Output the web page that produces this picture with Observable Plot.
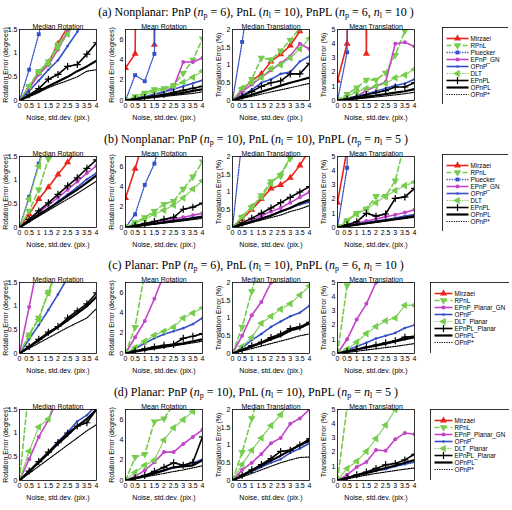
<!DOCTYPE html>
<html><head><meta charset="utf-8">
<script src="https://cdn.jsdelivr.net/npm/d3@7"></script>
<script src="https://cdn.jsdelivr.net/npm/@observablehq/plot@0.6"></script>
<style>
body{margin:0;background:#fff;}
#root{position:relative;width:512px;height:510px;overflow:hidden;background:#fff;}
.rt{position:absolute;left:0;width:512px;text-align:center;font-family:"Liberation Serif","DejaVu Serif",serif;font-size:12px;line-height:14px;color:#000;white-space:nowrap;}
.rt sub{font-size:8px;vertical-align:-2px;line-height:0;}
.pn{position:absolute;}
</style></head><body><div id="root"></div>
<script>
// ---------------- data ----------------
const xNoise = [0, 0.5, 1, 1.5, 2, 2.5, 3, 3.5, 4];
const panelTitles = ["Median Rotation", "Mean Rotation", "Median Translation", "Mean Translation"];
const yLabels = ["Rotation Error (degrees)", "Rotation Error (degrees)", "Translation Error (%)", "Translation Error (%)"];
const yMax = [1.5, 7, 2, 5];
const yTicks = [[0, 0.5, 1, 1.5], [0, 2, 4, 6], [0, 0.5, 1, 1.5, 2], [0, 1, 2, 3, 4, 5]];
const xLabel = "Noise, std.dev. (pix.)";
const rowTitles = [
  "(a) Nonplanar: PnP (<i>n</i><sub>p</sub> = 6), PnL (<i>n</i><sub>l</sub> = 10), PnPL (<i>n</i><sub>p</sub> = 6, <i>n</i><sub>l</sub> = 10 )",
  "(b) Nonplanar: PnP (<i>n</i><sub>p</sub> = 10), PnL (<i>n</i><sub>l</sub> = 10), PnPL (<i>n</i><sub>p</sub> = <i>n</i><sub>l</sub> = 5 )",
  "(c) Planar: PnP (<i>n</i><sub>p</sub> = 6), PnL (<i>n</i><sub>l</sub> = 10), PnPL (<i>n</i><sub>p</sub> = 6, <i>n</i><sub>l</sub> = 10 )",
  "(d) Planar: PnP (<i>n</i><sub>p</sub> = 10), PnL (<i>n</i><sub>l</sub> = 10), PnPL (<i>n</i><sub>p</sub> = <i>n</i><sub>l</sub> = 5 )"
];
const nonplanarNames = ["Mirzaei", "RPnL", "Pluecker", "EPnP_GN", "OPnP", "DLT", "EPnPL", "OPnPL", "OPnP*"];
const planarNames = ["Mirzaei", "RPnL", "EPnP_Planar_GN", "OPnP", "DLT_Planar", "EPnPL_Planar", "OPnPL", "OPnP*"];

// (a) Nonplanar np=6, nl=10
const a1 = {
  "Mirzaei": [0, 0.27, 0.58, 0.8, 1.2, 1.55, 1.9, 2.3, 2.7],
  "RPnL": [0, 0.3, 0.62, 0.82, 1.18, 1.45, 1.9, 2.2, 2.6],
  "Pluecker": [0, 0.65, 1.4, 2.3, 3.1, 3.8, 4.5, 5.2, 6],
  "EPnP_GN": [0, 0.25, 0.55, 0.75, 1.08, 1.45, 1.8, 2.1, 2.5],
  "OPnP": [0, 0.2, 0.42, 0.65, 0.85, 1.15, 1.45, 1.8, 2.1],
  "DLT": [0, 0.3, 0.6, 0.78, 1.12, 1.4, 1.75, 2.1, 2.4],
  "EPnPL": [0, 0.12, 0.25, 0.45, 0.55, 0.72, 0.76, 0.98, 1.22],
  "OPnPL": [0, 0.1, 0.2, 0.3, 0.4, 0.5, 0.62, 0.72, 0.84],
  "OPnP*": [0, 0.08, 0.17, 0.27, 0.35, 0.42, 0.5, 0.62, 0.65]
};
const a2 = {
  "Mirzaei": [3.2, 4.6, 99, 5.5, 99, 99, 99, 99, 99],
  "RPnL": [0, 0.4, 0.75, 1.1, 1.2, 1.5, 2.7, 4.0, 6.1],
  "Pluecker": [0, 2.5, 1.9, 4.6, 99, 99, 99, 99, 99],
  "EPnP_GN": [0, 0.2, 0.4, 0.6, 0.9, 1.3, 3.8, 3.8, 4.2],
  "OPnP": [0, 0.2, 0.4, 0.6, 0.85, 1.1, 1.4, 1.7, 2.0],
  "DLT": [0, 0.3, 0.6, 0.85, 1.1, 1.4, 1.8, 2.3, 2.9],
  "EPnPL": [0, 0.15, 0.3, 0.45, 0.6, 0.8, 1.0, 1.2, 1.4],
  "OPnPL": [0, 0.12, 0.25, 0.38, 0.5, 0.62, 0.75, 0.95, 1.1],
  "OPnP*": [0, 0.1, 0.2, 0.3, 0.4, 0.5, 0.6, 0.7, 0.85]
};
const a3 = {
  "Mirzaei": [0, 0.3, 0.55, 0.75, 1.1, 1.3, 1.55, 1.95, 2.4],
  "RPnL": [0, 0.3, 0.6, 1.2, 1.15, 1.4, 1.7, 2.05, 2.4],
  "Pluecker": [0, 1.65, 3.5, 5, 6, 7, 8, 9, 10],
  "EPnP_GN": [0, 0.25, 0.45, 0.65, 0.85, 1.05, 1.25, 1.6, 1.45],
  "OPnP": [0, 0.15, 0.3, 0.5, 0.6, 0.75, 0.8, 1.1, 1.25],
  "DLT": [0, 0.35, 0.5, 0.65, 0.9, 1.0, 1.2, 1.45, 1.75],
  "EPnPL": [0, 0.12, 0.25, 0.4, 0.5, 0.55, 0.75, 0.75, 1.05],
  "OPnPL": [0, 0.08, 0.16, 0.25, 0.33, 0.42, 0.5, 0.57, 0.65],
  "OPnP*": [0, 0.06, 0.12, 0.18, 0.24, 0.3, 0.36, 0.42, 0.48]
};
const a4 = {
  "Mirzaei": [1.4, 4.0, 99, 3.3, 99, 99, 99, 99, 99],
  "RPnL": [0, 0.45, 0.9, 1.45, 1.45, 1.95, 3.2, 4.9, 6.5],
  "Pluecker": [0, 3.4, 99, 99, 99, 99, 99, 99, 99],
  "EPnP_GN": [0, 0.15, 0.3, 0.7, 1.0, 1.3, 4.0, 4.1, 3.8],
  "OPnP": [0, 0.15, 0.3, 0.45, 0.65, 0.85, 1.05, 1.2, 1.5],
  "DLT": [0, 0.3, 0.6, 0.85, 1.0, 1.2, 1.6, 1.8, 2.2],
  "EPnPL": [0, 0.1, 0.25, 0.4, 0.55, 0.7, 0.95, 0.95, 1.25],
  "OPnPL": [0, 0.08, 0.17, 0.26, 0.35, 0.45, 0.55, 0.65, 0.8],
  "OPnP*": [0, 0.06, 0.12, 0.18, 0.25, 0.32, 0.4, 0.48, 0.58]
};
// (b) Nonplanar np=10, nl=10, PnPL np=nl=5
const b1 = {
  "Mirzaei": [0, 0.28, 0.6, 0.85, 1.12, 1.38, 1.65, 1.9, 2.2],
  "RPnL": [0, 0.35, 0.8, 1.45, 2.0, 2.5, 3.0, 3.5, 4.0],
  "Pluecker": [0, 0.65, 1.35, 2.1, 2.8, 3.5, 4.2, 4.9, 5.6],
  "EPnP_GN": [0, 0.15, 0.32, 0.48, 0.63, 0.8, 0.97, 1.15, 1.3],
  "OPnP": [0, 0.13, 0.27, 0.4, 0.55, 0.7, 0.85, 1.02, 1.15],
  "DLT": [0, 0.6, 1.3, 2.0, 2.7, 3.3, 4.0, 4.6, 5.2],
  "EPnPL": [0, 0.17, 0.35, 0.52, 0.7, 0.88, 1.05, 1.25, 1.43],
  "OPnPL": [0, 0.13, 0.27, 0.4, 0.53, 0.67, 0.8, 0.95, 1.1],
  "OPnP*": [0, 0.12, 0.24, 0.36, 0.48, 0.6, 0.72, 0.85, 0.98]
};
const b2 = {
  "Mirzaei": [2.9, 5.8, 9, 99, 99, 99, 99, 99, 99],
  "RPnL": [0, 0.5, 1.0, 1.6, 2.3, 2.6, 3.8, 5.0, 6.5],
  "Pluecker": [0, 1.3, 4.2, 6.3, 10, 99, 99, 99, 99],
  "EPnP_GN": [0, 0.15, 0.3, 0.45, 0.6, 0.8, 1.0, 1.2, 1.4],
  "OPnP": [0, 0.13, 0.27, 0.4, 0.53, 0.67, 0.8, 0.95, 1.1],
  "DLT": [0, 0.4, 0.8, 1.3, 1.7, 2.2, 2.9, 3.8, 4.6],
  "EPnPL": [0, 0.2, 0.4, 0.6, 0.8, 1.0, 1.8, 2.0, 2.4],
  "OPnPL": [0, 0.12, 0.25, 0.37, 0.5, 0.62, 0.75, 0.9, 1.05],
  "OPnP*": [0, 0.1, 0.22, 0.33, 0.44, 0.55, 0.66, 0.78, 0.9]
};
const b3 = {
  "Mirzaei": [0, 0.25, 0.5, 0.8, 1.1, 1.2, 1.4, 1.75, 2.2],
  "RPnL": [0, 0.3, 0.55, 0.9, 1.3, 1.45, 1.95, 2.4, 2.8],
  "Pluecker": [0, 2.5, 5, 7, 9, 11, 13, 15, 17],
  "EPnP_GN": [0, 0.1, 0.2, 0.33, 0.45, 0.55, 0.7, 0.85, 1.0],
  "OPnP": [0, 0.08, 0.17, 0.25, 0.34, 0.45, 0.55, 0.65, 0.72],
  "DLT": [0, 0.3, 0.6, 0.85, 1.25, 1.5, 2.0, 2.4, 2.9],
  "EPnPL": [0, 0.13, 0.26, 0.4, 0.55, 0.7, 0.85, 1.0, 1.15],
  "OPnPL": [0, 0.08, 0.16, 0.25, 0.34, 0.45, 0.55, 0.68, 0.78],
  "OPnP*": [0, 0.07, 0.14, 0.21, 0.28, 0.35, 0.45, 0.52, 0.62]
};
const b4 = {
  "Mirzaei": [1.75, 5.5, 99, 99, 99, 99, 99, 99, 99],
  "RPnL": [0, 0.5, 1.0, 1.3, 2.2, 2.2, 3.3, 6, 8],
  "Pluecker": [0, 4.2, 99, 99, 99, 99, 99, 99, 99],
  "EPnP_GN": [0, 0.15, 0.3, 0.45, 0.6, 0.75, 0.9, 1.05, 1.25],
  "OPnP": [0, 0.1, 0.22, 0.33, 0.45, 0.55, 0.67, 0.8, 0.92],
  "DLT": [0, 0.45, 0.95, 1.3, 1.75, 2.2, 2.6, 2.95, 3.2],
  "EPnPL": [0, 0.2, 0.4, 1.0, 0.8, 0.95, 2.05, 2.15, 2.75],
  "OPnPL": [0, 0.1, 0.2, 0.3, 0.4, 0.5, 0.6, 0.7, 0.8],
  "OPnP*": [0, 0.09, 0.18, 0.27, 0.36, 0.45, 0.54, 0.63, 0.72]
};
// (c) Planar np=6, nl=10
const c1 = {
  "Mirzaei": [99, 99, 99, 99, 99, 99, 99, 99, 99],
  "RPnL": [0, 0.4, 0.75, 1.3, 1.85, 2.4, 3.0, 3.5, 4.0],
  "EPnP_Planar_GN": [0, 0.98, 2.0, 3.0, 4.0, 5.0, 6.0, 7.0, 8.0],
  "OPnP": [0, 0.3, 0.6, 0.92, 1.25, 1.6, 1.9, 2.2, 2.5],
  "DLT_Planar": [0, 0.37, 0.72, 1.28, 1.75, 2.2, 2.6, 3.0, 3.4],
  "EPnPL_Planar": [0, 0.15, 0.3, 0.45, 0.57, 0.75, 0.9, 1.05, 1.28],
  "OPnPL": [0, 0.14, 0.28, 0.42, 0.56, 0.7, 0.85, 1.0, 1.2],
  "OPnP*": [0, 0.11, 0.22, 0.33, 0.44, 0.55, 0.65, 0.75, 0.95]
};
const c2 = {
  "Mirzaei": [99, 99, 99, 99, 99, 99, 99, 99, 99],
  "RPnL": [0, 2.6, 8, 12, 16, 20, 24, 28, 32],
  "EPnP_Planar_GN": [0, 1.6, 3.2, 5.4, 7.8, 10, 12, 14, 16],
  "OPnP": [0, 0.5, 1.0, 1.5, 1.9, 2.2, 2.5, 2.9, 3.5],
  "DLT_Planar": [0, 0.6, 1.2, 1.8, 2.2, 2.6, 3.5, 4.0, 4.5],
  "EPnPL_Planar": [0, 0.25, 0.45, 0.65, 0.8, 0.9, 1.5, 1.7, 1.95],
  "OPnPL": [0, 0.2, 0.4, 0.55, 0.7, 0.85, 1.0, 1.2, 1.4],
  "OPnP*": [0, 0.15, 0.3, 0.45, 0.6, 0.75, 0.9, 1.05, 1.2]
};
const c3 = {
  "Mirzaei": [99, 99, 99, 99, 99, 99, 99, 99, 99],
  "RPnL": [0, 0.75, 1.75, 2.8, 3.8, 4.8, 5.8, 6.8, 7.8],
  "EPnP_Planar_GN": [0, 0.5, 1.08, 1.45, 2.0, 2.5, 3.0, 3.5, 4.0],
  "OPnP": [0, 0.15, 0.38, 0.55, 0.75, 0.9, 1.05, 1.15, 1.35],
  "DLT_Planar": [0, 0.2, 0.45, 0.85, 1.05, 1.25, 1.4, 1.65, 1.9],
  "EPnPL_Planar": [0, 0.1, 0.22, 0.32, 0.45, 0.55, 0.7, 0.75, 0.88],
  "OPnPL": [0, 0.1, 0.2, 0.3, 0.4, 0.5, 0.65, 0.72, 0.85],
  "OPnP*": [0, 0.07, 0.14, 0.21, 0.28, 0.35, 0.42, 0.5, 0.55]
};
const c4 = {
  "Mirzaei": [99, 99, 99, 99, 99, 99, 99, 99, 99],
  "RPnL": [0, 4.8, 10, 15, 20, 25, 30, 35, 40],
  "EPnP_Planar_GN": [0, 1.0, 2.4, 3.5, 5.0, 6.2, 7.5, 8.7, 10],
  "OPnP": [0, 0.25, 0.5, 0.75, 1.05, 1.25, 1.45, 1.8, 2.0],
  "DLT_Planar": [0, 0.3, 0.8, 1.4, 1.9, 2.3, 2.5, 3.4, 3.4],
  "EPnPL_Planar": [0, 0.15, 0.3, 0.45, 0.6, 0.75, 0.9, 1.15, 1.2],
  "OPnPL": [0, 0.14, 0.28, 0.42, 0.56, 0.7, 0.85, 1.0, 1.15],
  "OPnP*": [0, 0.08, 0.16, 0.25, 0.33, 0.42, 0.5, 0.6, 0.7]
};
// (d) Planar np=10, nl=10, PnPL np=nl=5
const d1 = {
  "Mirzaei": [99, 99, 99, 99, 99, 99, 99, 99, 99],
  "RPnL": [0, 2.0, 4.0, 6.0, 8.0, 10, 12, 14, 16],
  "EPnP_Planar_GN": [0, 0.45, 0.92, 1.28, 1.75, 2.2, 2.6, 3.0, 3.4],
  "OPnP": [0, 0.2, 0.4, 0.6, 0.82, 1.02, 1.25, 1.38, 1.6],
  "DLT_Planar": [0, 0.62, 1.13, 1.3, 1.9, 2.4, 2.9, 3.4, 3.9],
  "EPnPL_Planar": [0, 0.2, 0.4, 0.6, 0.8, 1.0, 1.15, 1.22, 1.5],
  "OPnPL": [0, 0.19, 0.38, 0.57, 0.78, 0.96, 1.15, 1.3, 1.5],
  "OPnP*": [0, 0.15, 0.3, 0.45, 0.6, 0.75, 0.9, 1.05, 1.18]
};
const d2 = {
  "Mirzaei": [99, 99, 99, 99, 99, 99, 99, 99, 99],
  "RPnL": [0, 2.3, 2.6, 5.8, 6.1, 7.5, 8.5, 9.5, 10],
  "EPnP_Planar_GN": [0, 0.4, 1.0, 1.8, 2.8, 2.8, 3.6, 4.3, 5.0],
  "OPnP": [0, 0.25, 0.5, 0.75, 1.0, 1.25, 1.5, 1.7, 2.1],
  "DLT_Planar": [0, 0.8, 1.5, 2.0, 4.0, 5.2, 6.0, 6.8, 8.0],
  "EPnPL_Planar": [0, 0.25, 0.5, 0.9, 1.3, 1.75, 1.5, 1.8, 4.3],
  "OPnPL": [0, 0.2, 0.45, 0.7, 1.0, 1.3, 1.4, 1.5, 2.0],
  "OPnP*": [0, 0.18, 0.35, 0.52, 0.7, 0.88, 1.05, 1.25, 1.45]
};
const d3v = {
  "Mirzaei": [99, 99, 99, 99, 99, 99, 99, 99, 99],
  "RPnL": [0, 0.8, 1.75, 2.7, 3.5, 4.3, 5.1, 5.9, 6.7],
  "EPnP_Planar_GN": [0, 0.3, 0.5, 0.75, 1.05, 1.2, 1.6, 1.75, 2.0],
  "OPnP": [0, 0.12, 0.25, 0.38, 0.5, 0.6, 0.78, 0.9, 1.05],
  "DLT_Planar": [0, 0.45, 0.85, 1.2, 1.55, 1.85, 2.2, 2.5, 2.8],
  "EPnPL_Planar": [0, 0.15, 0.3, 0.45, 0.62, 0.82, 0.85, 1.0, 1.17],
  "OPnPL": [0, 0.14, 0.28, 0.42, 0.56, 0.7, 0.85, 1.0, 1.12],
  "OPnP*": [0, 0.1, 0.2, 0.3, 0.4, 0.5, 0.58, 0.65, 0.66]
};
const d4 = {
  "Mirzaei": [99, 99, 99, 99, 99, 99, 99, 99, 99],
  "RPnL": [0, 5.2, 10, 15, 20, 25, 30, 35, 40],
  "EPnP_Planar_GN": [0, 0.4, 0.95, 1.3, 2.15, 2.1, 2.9, 3.35, 3.25],
  "OPnP": [0, 0.15, 0.35, 0.5, 0.7, 0.8, 1.0, 1.15, 1.3],
  "DLT_Planar": [0, 0.85, 1.35, 2.05, 2.95, 3.9, 5.0, 6.0, 7.0],
  "EPnPL_Planar": [0, 0.2, 0.4, 0.6, 0.85, 1.1, 1.2, 1.45, 1.85],
  "OPnPL": [0, 0.18, 0.35, 0.53, 0.7, 0.88, 1.05, 1.25, 1.45],
  "OPnP*": [0, 0.12, 0.25, 0.38, 0.5, 0.6, 0.7, 0.8, 0.88]
};
const rows = [
  {names: nonplanarNames, panels: [a1, a2, a3, a4]},
  {names: nonplanarNames, panels: [b1, b2, b3, b4]},
  {names: planarNames, panels: [c1, c2, c3, c4]},
  {names: planarNames, panels: [d1, d2, d3v, d4]}
];

// ---------------- styles ----------------
const S3 = Math.sqrt(3);
const triDown = {draw(ctx, size) { const a = Math.sqrt(size / (S3 * 3)); ctx.moveTo(0, 2 * a); ctx.lineTo(-S3 * a, -a); ctx.lineTo(S3 * a, -a); ctx.closePath(); }};
const triLeft = {draw(ctx, size) { const a = Math.sqrt(size / (S3 * 3)); ctx.moveTo(-2 * a, 0); ctx.lineTo(a, -S3 * a); ctx.lineTo(a, S3 * a); ctx.closePath(); }};
const RED = "#e8261e", GREEN = "#76cc4c", BLUE = "#3450c8", MAG = "#c444c8", BLK = "#000";
const styleOf = {
  "Mirzaei": {stroke: RED, w: 1.6, symbol: "triangle", r: 2.6, fill: RED},
  "RPnL": {stroke: GREEN, w: 1.6, dash: "5,3", symbol: triDown, r: 2.8, fill: GREEN},
  "Pluecker": {stroke: BLUE, w: 1.3, dash: "1.3,1.3", symbol: "square", r: 2.2, fill: BLUE},
  "EPnP_GN": {stroke: MAG, w: 1.6, symbol: "circle", r: 2.0, fill: MAG},
  "EPnP_Planar_GN": {stroke: MAG, w: 1.6, symbol: "circle", r: 2.0, fill: MAG},
  "OPnP": {stroke: BLUE, w: 1.6, symbol: "circle", r: 1.3, fill: BLUE},
  "DLT": {stroke: GREEN, w: 1.2, dash: "1.3,1.3", symbol: triLeft, r: 2.8, fill: GREEN},
  "DLT_Planar": {stroke: GREEN, w: 1.2, dash: "1.3,1.3", symbol: triLeft, r: 2.8, fill: GREEN},
  "EPnPL": {stroke: BLK, w: 1.6, symbol: "plus", r: 2.4, mstroke: BLK},
  "EPnPL_Planar": {stroke: BLK, w: 1.6, symbol: "plus", r: 2.4, mstroke: BLK},
  "OPnPL": {stroke: BLK, w: 2.2},
  "OPnP*": {stroke: BLK, w: 1.2, dash: "1.2,1.2"}
};
function seriesMarks(pts, st, xo, yo) {
  const out = [Plot.line(pts, {x: xo, y: yo, stroke: st.stroke, strokeWidth: st.w, strokeDasharray: st.dash, clip: true})];
  if (st.symbol) {
    out.push(Plot.dot(pts, {x: xo, y: yo, symbol: st.symbol, r: st.r,
      fill: st.fill || "none", stroke: st.mstroke || "none", strokeWidth: 1.2, clip: true}));
  }
  return out;
}

// ---------------- layout ----------------
const frameLeft = [19, 124.5, 231.5, 337];
const frameW = 77, frameH = 71;
const rowTop = r => 29 + r * 126.7;
const fmt = d => String(d);
const root = document.getElementById("root");

function place(el, left, top) {
  const div = document.createElement("div");
  div.className = "pn";
  div.style.left = left + "px";
  div.style.top = top + "px";
  div.appendChild(el);
  root.appendChild(div);
}

rows.forEach((row, r) => {
  const t = document.createElement("div");
  t.className = "rt";
  t.style.top = (rowTop(r) - 24) + "px";
  t.innerHTML = rowTitles[r];
  root.appendChild(t);

  row.panels.forEach((data, c) => {
    const mL = 19, mR = 5, mT = 12, mB = 30;
    const marks = [];
    for (const n of row.names) {
      const vals = data[n];
      const pts = xNoise.map((x, i) => ({x, y: vals[i]}));
      marks.push(...seriesMarks(pts, styleOf[n], "x", "y"));
    }
    marks.push(Plot.frame({stroke: "#000", strokeWidth: 0.8}));
    marks.push(Plot.text([panelTitles[c]], {frameAnchor: "top", dy: -5, fontSize: 7}));
    const svg = Plot.plot({
      width: mL + frameW + mR, height: mT + frameH + mB,
      marginLeft: mL, marginRight: mR, marginTop: mT, marginBottom: mB,
      style: {fontFamily: '"Liberation Sans", Arial, sans-serif', fontSize: "7px", background: "transparent", overflow: "visible", color: "#000"},
      x: {domain: [0, 4], ticks: xNoise, tickFormat: fmt, tickSize: 0, tickPadding: 3, label: xLabel, labelAnchor: "center", labelArrow: "none", labelOffset: 19},
      y: {domain: [0, yMax[c]], ticks: yTicks[c], tickFormat: fmt, tickSize: 0, tickPadding: 2, label: yLabels[c], labelAnchor: "center", labelArrow: "none", labelOffset: 16},
      marks
    });
    place(svg, frameLeft[c] - mL, rowTop(r) - mT);
  });

  // legend
  const planar = row.names === planarNames;
  const W = planar ? 79 : 66, H = planar ? 71 : 77;
  const lx1 = 4, lx2 = planar ? 22 : 26, tx = lx2 + 2;
  const lmarks = [];
  for (const n of row.names) {
    const st = styleOf[n];
    lmarks.push(Plot.link([n], {x1: lx1, x2: lx2, y1: d => d, y2: d => d, stroke: st.stroke, strokeWidth: st.w, strokeDasharray: st.dash}));
    if (st.symbol) lmarks.push(Plot.dot([n], {x: (lx1 + lx2) / 2, y: d => d, symbol: st.symbol, r: st.r, fill: st.fill || "none", stroke: st.mstroke || "none", strokeWidth: 1.2}));
    lmarks.push(Plot.text([n], {x: tx, y: d => d, text: d => d, textAnchor: "start", fontSize: 6.3}));
  }
  lmarks.push(Plot.frame({stroke: "#000", strokeWidth: 0.8}));
  const leg = Plot.plot({
    width: W, height: H, marginLeft: 0, marginRight: 0, marginTop: 0, marginBottom: 0,
    style: {fontFamily: '"Liberation Sans", Arial, sans-serif', fontSize: "7px", background: "#fff", color: "#000"},
    x: {domain: [0, W], axis: null},
    y: {type: "point", domain: row.names, range: [5, H - 5], axis: null},
    marks: lmarks
  });
  place(leg, planar ? 430 : 442, rowTop(r) - (planar ? 0 : 2));
});
</script></body></html>
